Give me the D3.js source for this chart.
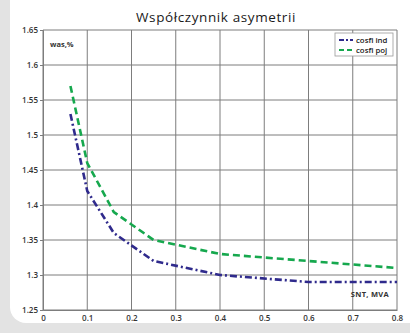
<!DOCTYPE html>
<html>
<head>
<meta charset="utf-8">
<script src="https://cdn.jsdelivr.net/npm/d3@7"></script>
<style>
  html, body { margin: 0; padding: 0; background: #e3e3e3; }
  svg { display: block; }
  text { font-family: "Open Sans", "Noto Sans", sans-serif; }
</style>
</head>
<body>
<script>
// dane
const xTicks = [0, 0.1, 0.2, 0.3, 0.4, 0.5, 0.6, 0.7, 0.8];
const yTicks = [1.25, 1.3, 1.35, 1.4, 1.45, 1.5, 1.55, 1.6, 1.65];
const xInd = [0.062, 0.1, 0.16, 0.25, 0.4, 0.6, 0.8];
const yInd = [1.53, 1.42, 1.36, 1.32, 1.30, 1.29, 1.29];
const xPoj = [0.062, 0.1, 0.16, 0.25, 0.4, 0.8];
const yPoj = [1.57, 1.46, 1.39, 1.35, 1.33, 1.31];
const seriesNames = ['cosfi ind', 'cosfi poj'];
const seriesColors = ['#2f2a8c', '#16a84e'];

const W = 410, H = 333;
const margin = {top: 30, right: 13, bottom: 23, left: 43};

const svg = d3.select('body').append('svg').attr('width', W).attr('height', H);

// biały panel z zaokrąglonym rogiem
svg.append('rect')
    .attr('x', 10).attr('y', -30)
    .attr('width', 440).attr('height', 353)
    .attr('rx', 16)
    .attr('fill', '#ffffff');

const x = d3.scaleLinear().domain([0, 0.8]).range([margin.left, W - margin.right]);
const y = d3.scaleLinear().domain([1.25, 1.65]).range([H - margin.bottom, margin.top]);

svg.append('text')
    .attr('x', 216).attr('y', 22)
    .attr('text-anchor', 'middle')
    .attr('font-size', 13.5)
    .attr('letter-spacing', 0.6)
    .attr('fill', '#1a1a1a')
    .text('Współczynnik asymetrii');

// siatka
const grid = svg.append('g');
grid.selectAll('line.v')
    .data(xTicks)
    .enter().append('line')
    .attr('x1', d => x(d)).attr('x2', d => x(d))
    .attr('y1', y(1.25)).attr('y2', y(1.65))
    .attr('stroke', '#7d7d7d').attr('stroke-width', 1);
grid.selectAll('line.h')
    .data(yTicks)
    .enter().append('line')
    .attr('x1', x(0)).attr('x2', x(0.8))
    .attr('y1', d => y(d)).attr('y2', d => y(d))
    .attr('stroke', '#7d7d7d').attr('stroke-width', 1);

// osie
const xAxis = svg.append('g')
    .attr('transform', `translate(0,${y(1.25)})`)
    .call(d3.axisBottom(x).tickValues(xTicks).tickSize(0).tickPadding(5).tickFormat(d => d === 0 ? '0' : d3.format('.1f')(d)));
const yAxis = svg.append('g')
    .attr('transform', `translate(${x(0)},0)`)
    .call(d3.axisLeft(y).tickValues(yTicks).tickSize(3).tickPadding(2).tickFormat(d => String(+d.toFixed(2))));
[xAxis, yAxis].forEach(a => {
    a.select('.domain').attr('stroke', '#7d7d7d');
    a.selectAll('.tick line').attr('stroke', '#7d7d7d');
    a.selectAll('text').attr('font-size', 8).attr('font-weight', 600).attr('fill', '#333')
        .style('font-family', '"Open Sans", sans-serif');
});

// linie danych
const line = d3.line().x(d => x(d[0])).y(d => y(d[1]));
const dInd = xInd.map((v, i) => [v, yInd[i]]);
const dPoj = xPoj.map((v, i) => [v, yPoj[i]]);

svg.append('path')
    .datum(dPoj)
    .attr('d', line)
    .attr('fill', 'none')
    .attr('stroke', seriesColors[1])
    .attr('stroke-width', 2.6)
    .attr('stroke-dasharray', '7,4');

svg.append('path')
    .datum(dInd)
    .attr('d', line)
    .attr('fill', 'none')
    .attr('stroke', seriesColors[0])
    .attr('stroke-width', 2.6)
    .attr('stroke-dasharray', '7,3,2,3');

// opisy osi
svg.append('text')
    .attr('x', 50).attr('y', 47)
    .attr('font-size', 7.5).attr('font-weight', 700).attr('fill', '#333')
    .text('was,%');
svg.append('text')
    .attr('x', 389).attr('y', 297)
    .attr('text-anchor', 'end')
    .attr('font-size', 7.5).attr('font-weight', 700).attr('fill', '#333')
    .attr('letter-spacing', 0.3)
    .text('SNT, MVA');

// legenda
const lg = svg.append('g').attr('transform', 'translate(335,33)');
lg.append('rect')
    .attr('width', 58).attr('height', 23)
    .attr('fill', '#fff').attr('stroke', '#999').attr('stroke-width', 0.8);
seriesNames.forEach((name, i) => {
    const row = lg.append('g').attr('transform', `translate(0,${7 + i * 10})`);
    row.append('line')
        .attr('x1', 4).attr('x2', 18)
        .attr('stroke', seriesColors[i]).attr('stroke-width', 2.2)
        .attr('stroke-dasharray', i === 0 ? '5,2,2,2' : '5,3');
    row.append('text')
        .attr('x', 21).attr('y', 2.5)
        .attr('font-size', 7.8).attr('font-weight', 600).attr('fill', '#222')
        .text(name);
});
</script>
</body>
</html>
